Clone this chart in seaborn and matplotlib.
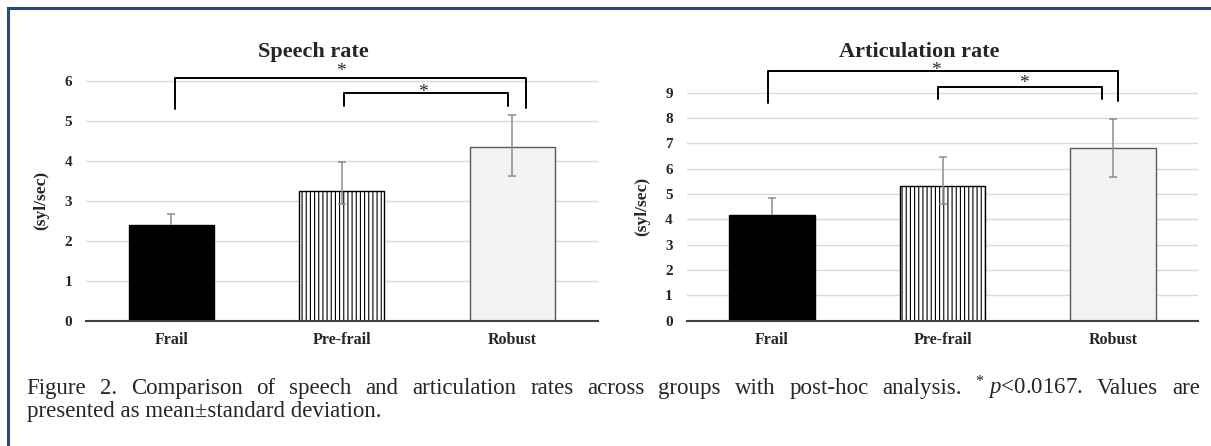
import matplotlib
matplotlib.use("Agg")
import matplotlib.pyplot as plt
from matplotlib.lines import Line2D
import seaborn as sns

# data
categories = ["Frail", "Pre-frail", "Robust"]

speech_mean = [2.39, 3.24, 4.35]
speech_err_lo = [0.0, 0.31, 0.72]
speech_err_hi = [0.29, 0.74, 0.80]

artic_mean = [4.17, 5.31, 6.81]
artic_err_lo = [0.0, 0.70, 1.12]
artic_err_hi = [0.66, 1.16, 1.16]

speech_ticks = [0, 1, 2, 3, 4, 5, 6]
artic_ticks = [0, 1, 2, 3, 4, 5, 6, 7, 8, 9]

# significance brackets: x left, x right, top, left foot, right foot
speech_brackets = [(0.022, 2.077, 6.07, 5.29, 5.33), (1.014, 1.972, 5.69, 5.37, 5.38)]
speech_stars = [(0.993, 6.24), (1.477, 5.70)]
artic_brackets = [(-0.025, 2.03, 9.87, 8.61, 8.69), (0.971, 1.933, 9.21, 8.74, 8.76)]
artic_stars = [(0.961, 9.86), (1.477, 9.37)]

caption1 = ["Figure", "2.", "Comparison", "of", "speech", "and", "articulation", "rates",
            "across", "groups", "with", "post-hoc", "analysis.", r"$^{*}$ $\mathit{p}$<0.0167.",
            "Values", "are"]
caption2 = "presented as mean\u00b1standard deviation."

sns.set_style("white")
plt.rcParams["font.family"] = ["Liberation Serif", "DejaVu Serif"]
plt.rcParams["mathtext.fontset"] = "custom"
plt.rcParams["mathtext.rm"] = "Liberation Serif"
plt.rcParams["mathtext.it"] = "Liberation Serif:italic"
plt.rcParams["hatch.linewidth"] = 0.8

fills = {"Frail": "black", "Pre-frail": "white", "Robust": "#f2f2f2"}
edges = ["black", "black", "#595959"]
hatches = [None, "||||", None]


def draw(ax, means, lo, hi, ymax, ticks, brackets, stars):
    sns.barplot(x=categories, y=means, hue=categories, palette=fills, width=0.5,
                errorbar=None, legend=False, ax=ax, linewidth=1.0)
    for p, ec, h in zip(ax.patches, edges, hatches):
        p.set_edgecolor(ec)
        if h:
            p.set_hatch(h)
    # error bars, one per bar so a missing lower whisker drops its cap too
    for i, (m, l, h) in enumerate(zip(means, lo, hi)):
        _, caps, _ = ax.errorbar(i, m, yerr=[[l], [h]], fmt="none", ecolor="#8c8c8c",
                                 elinewidth=1.1, capsize=3, capthick=1.1, zorder=4)
        if l == 0:
            caps[0].set_visible(False)
    ax.set_xlim(-0.5, 2.5)
    ax.set_ylim(0, ymax)
    ax.set_yticks(ticks)
    ax.yaxis.grid(True, color="#d9d9d9", lw=1.0)
    ax.set_axisbelow(True)
    for s in ["top", "right", "left"]:
        ax.spines[s].set_visible(False)
    ax.spines["bottom"].set_color("#404040")
    ax.spines["bottom"].set_linewidth(1.5)
    ax.spines["bottom"].set_zorder(5)
    ax.tick_params(axis="y", length=0, pad=10, labelsize=11)
    ax.tick_params(axis="x", length=0, pad=8, labelsize=11.5)
    for lab in ax.get_xticklabels() + ax.get_yticklabels():
        lab.set_fontweight("bold")
    ax.set_ylabel("(syl/sec)", fontsize=12.5, fontweight="bold")
    ax.yaxis.set_label_coords(-0.071, (ticks[-1] / 2) / ymax)
    for xl, xr, yt, yl, yr in brackets:
        ax.plot([xl, xl, xr, xr], [yl, yt, yt, yr], color="black", lw=1.4,
                clip_on=False, zorder=6)
    for sx, sy in stars:
        ax.text(sx, sy, "*", ha="center", va="center", fontsize=14, clip_on=False)


fig = plt.figure(figsize=(12.11, 4.46), dpi=100)
ax1 = fig.add_axes([0.07102, 0.28094, 0.42254, 0.5919])
ax2 = fig.add_axes([0.56705, 0.28094, 0.42254, 0.5964])

draw(ax1, speech_mean, speech_err_lo, speech_err_hi, 6.6, speech_ticks,
     speech_brackets, speech_stars)
draw(ax2, artic_mean, artic_err_lo, artic_err_hi, 10.5, artic_ticks,
     artic_brackets, artic_stars)

fig.text(313 / 1211, 1 - 52 / 446, "Speech rate", ha="center", va="center",
         fontsize=16, fontweight="bold")
fig.text(918.8 / 1211, 1 - 51.7 / 446, "Articulation rate", ha="center", va="center",
         fontsize=16, fontweight="bold")

# blue frame on the top and left
blue = "#1f4e8c"
fig.add_artist(Line2D([8 / 1211, 8 / 1211], [0, 1 - 8 / 446], color=blue, lw=2.2,
                      transform=fig.transFigure, solid_capstyle="projecting"))
fig.add_artist(Line2D([8 / 1211, 1], [1 - 8 / 446, 1 - 8 / 446], color=blue, lw=2.2,
                      transform=fig.transFigure, solid_capstyle="projecting"))

# justified caption, first line
renderer = fig.canvas.get_renderer()
W = fig.bbox.width
y1 = 1 - 394.3 / 446
words = [fig.text(0, y1, w, fontsize=16.5, va="baseline") for w in caption1]
widths = [t.get_window_extent(renderer).width for t in words]
gap = ((1200 - 26.7) - sum(widths)) / (len(words) - 1)
x = 26.7
for t, w in zip(words, widths):
    t.set_x(x / W)
    x += w + gap
fig.text(26.7 / W, 1 - 417 / 446, caption2, fontsize=16.5, va="baseline")

fig.savefig("out.png", dpi=100)
